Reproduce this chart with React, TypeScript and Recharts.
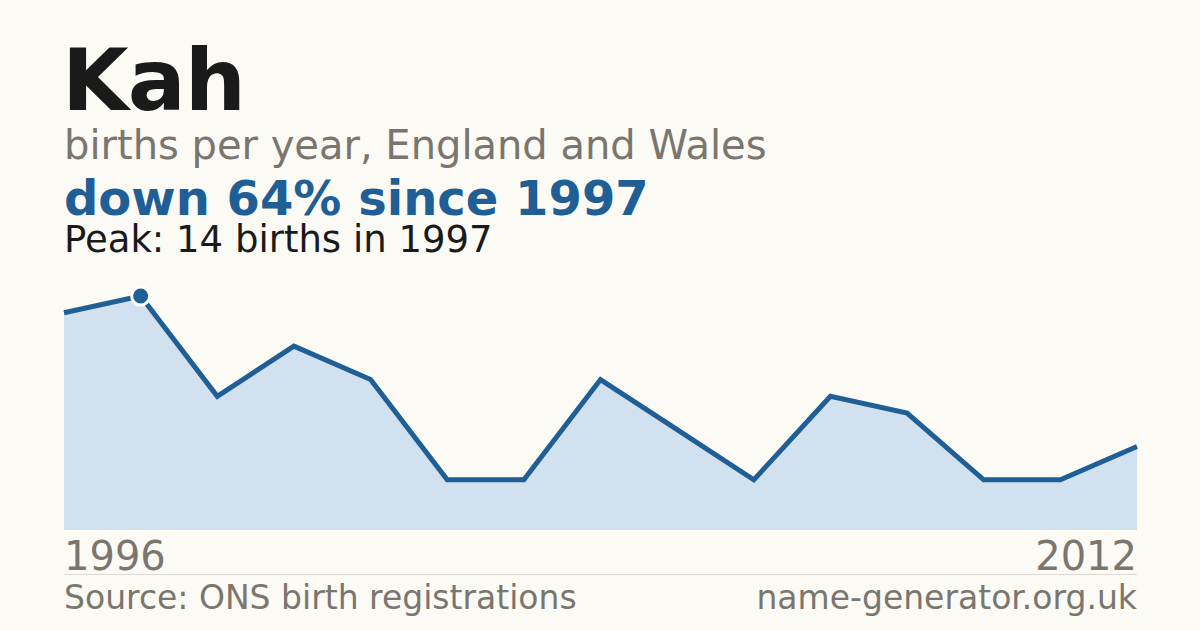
import React from 'react'
import { AreaChart, Area, XAxis, YAxis } from 'recharts'

const years = [
  '1996', '1997', '1998', '1999', '2000', '2001', '2002', '2003',
  '2004', '2006', '2007', '2008', '2010', '2011', '2012',
]
const births = [13, 14, 8, 11, 9, 3, 3, 9, 6, 3, 8, 7, 3, 3, 5]
const tickYears = ['1996', '2012']

const data = years.map((year, i) => ({ year, births: births[i] }))
const peakIndex = births.indexOf(Math.max(...births))

const BLUE = '#1f5f96'
const GREY = '#7a766e'
const FONT = '"DejaVu Sans", sans-serif'

const EdgeTick = (props: any) => {
  const { x, y, payload } = props
  const first = payload.value === tickYears[0]
  return (
    <text
      x={x}
      y={y + 32}
      textAnchor={first ? 'start' : 'end'}
      fill={GREY}
      fontSize={40}
      fontFamily={FONT}
    >
      {payload.value}
    </text>
  )
}

const PeakDot = (props: any) => {
  const { cx, cy, index } = props
  if (index !== peakIndex) return <g key={index} />
  return <circle key={index} cx={cx} cy={cy} r={9} fill={BLUE} stroke="#ffffff" strokeWidth={3} />
}

const line = (top: number, size: number, extra: React.CSSProperties = {}): React.CSSProperties => ({
  position: 'absolute',
  left: 64,
  top,
  fontSize: size,
  lineHeight: 0.8,
  whiteSpace: 'nowrap',
  ...extra,
})

export default function App() {
  return (
    <div
      style={{
        position: 'fixed',
        top: 0,
        left: 0,
        width: 1200,
        height: 630,
        background: '#fbfaf5',
        fontFamily: FONT,
        overflow: 'hidden',
      }}
    >
      <div style={line(46, 86, { left: 62, fontWeight: 700, color: '#1a1a1a', letterSpacing: -1 })}>Kah</div>
      <div style={line(129, 40, { color: GREY })}>births per year, England and Wales</div>
      <div style={line(179, 48, { fontWeight: 700, color: BLUE })}>down 64% since 1997</div>
      <div style={line(225, 37, { color: '#1a1a1a' })}>Peak: 14 births in 1997</div>

      <div style={{ position: 'absolute', left: 44, top: 276 }}>
        <AreaChart
          width={1113}
          height={310}
          data={data}
          margin={{ top: 20, right: 20, bottom: 0, left: 20 }}
        >
          <XAxis
            dataKey="year"
            ticks={tickYears}
            interval={0}
            axisLine={false}
            tickLine={false}
            tick={<EdgeTick />}
            height={56}
          />
          <YAxis hide domain={[0, 14]} />
          <Area
            type="linear"
            dataKey="births"
            stroke={BLUE}
            strokeWidth={5}
            fill="#d1e1f0"
            fillOpacity={1}
            dot={<PeakDot />}
            activeDot={false}
            isAnimationActive={false}
          />
        </AreaChart>
      </div>

      <div style={{ position: 'absolute', left: 64, top: 574, width: 1073, height: 1, background: '#dcd9d2' }} />
      <div style={line(585, 33, { color: GREY })}>Source: ONS birth registrations</div>
      <div style={line(585, 33, { left: undefined, right: 63, color: GREY })}>name-generator.org.uk</div>
    </div>
  )
}
